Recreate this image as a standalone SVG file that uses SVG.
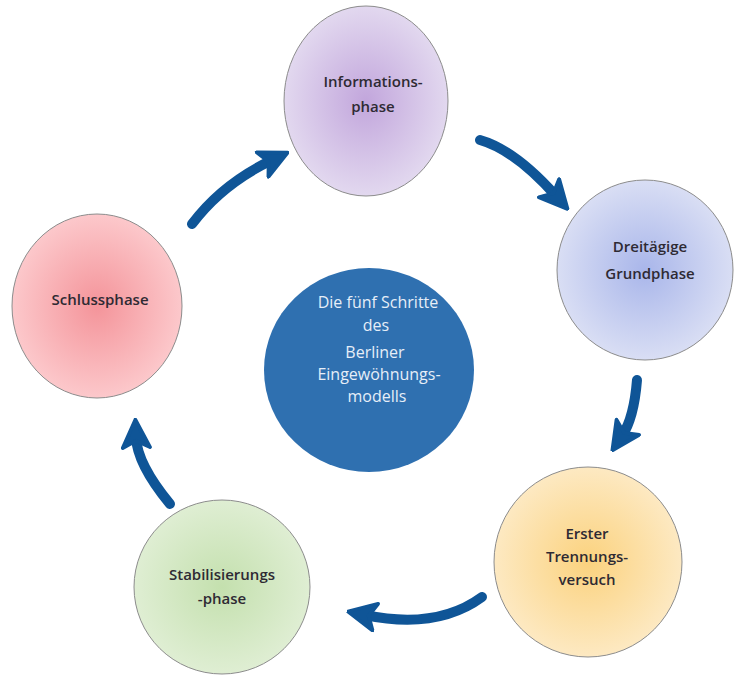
<svg xmlns="http://www.w3.org/2000/svg" width="734" height="682" viewBox="0 0 734 682">
<style>
.node{stroke:#8c8c8c;stroke-width:1}
.lbl{font-family:"Open Sans","Noto Sans",sans-serif;font-size:15px;font-weight:600;fill:#2e2a33;text-anchor:middle}
.clbl{font-family:"Open Sans","Noto Sans",sans-serif;font-size:16px;fill:#e6eef8;text-anchor:middle}
.arrow{fill:none;stroke:#0f5597;stroke-width:10;stroke-linecap:round;marker-end:url(#head)}
</style>
<defs>
<marker id="head" viewBox="0 0 10 10" refX="4" refY="5" markerWidth="3.1" markerHeight="3.1" orient="auto" markerUnits="strokeWidth">
<path d="M0.6,0.6 L9.6,5 L0.6,9.4 L2.8,5 Z" fill="#0f5597" stroke="#0f5597" stroke-width="1.2" stroke-linejoin="round"/>
</marker>
<radialGradient id="gPurple"><stop offset="0" stop-color="#c2a6dc"/><stop offset="1" stop-color="#e2d8ef"/></radialGradient>
<radialGradient id="gBlue"><stop offset="0" stop-color="#a9b6ea"/><stop offset="1" stop-color="#d9def4"/></radialGradient>
<radialGradient id="gYellow"><stop offset="0" stop-color="#fbd27e"/><stop offset="1" stop-color="#fde9c2"/></radialGradient>
<radialGradient id="gGreen"><stop offset="0" stop-color="#c4e0ae"/><stop offset="1" stop-color="#dfeed3"/></radialGradient>
<radialGradient id="gRed"><stop offset="0" stop-color="#f4949a"/><stop offset="1" stop-color="#fcc8cb"/></radialGradient>
</defs>
<rect width="734" height="682" fill="#ffffff"/>
<g id="connectors">
<path class="arrow" d="M192,224 Q222,184 272,160"/>
<path class="arrow" d="M480,140 Q515,150 556,196"/>
<path class="arrow" d="M637,380 Q634,418 622,436"/>
<path class="arrow" d="M482,597 Q437,630 365,615"/>
<path class="arrow" d="M170,504 Q137,464 136,437"/>
</g>
<g id="center">
<ellipse cx="369" cy="370" rx="105" ry="102" fill="#2f70b0"/>
<text class="clbl" x="378" y="308">Die fünf Schritte</text>
<text class="clbl" x="376" y="331">des</text>
<text class="clbl" x="375" y="358">Berliner</text>
<text class="clbl" x="379" y="380">Eingewöhnungs-</text>
<text class="clbl" x="377" y="402">modells</text>
</g>
<g id="informationsphase">
<ellipse class="node" cx="366" cy="101" rx="82" ry="95" fill="url(#gPurple)"/>
<text class="lbl" x="373" y="87">Informations-</text>
<text class="lbl" x="373" y="112">phase</text>
</g>
<g id="grundphase">
<ellipse class="node" cx="645" cy="270" rx="88" ry="90" fill="url(#gBlue)"/>
<text class="lbl" x="650" y="252">Dreitägige</text>
<text class="lbl" x="650" y="279">Grundphase</text>
</g>
<g id="trennungsversuch">
<ellipse class="node" cx="588" cy="562" rx="94" ry="95" fill="url(#gYellow)"/>
<text class="lbl" x="587" y="539">Erster</text>
<text class="lbl" x="587" y="562">Trennungs-</text>
<text class="lbl" x="587" y="585">versuch</text>
</g>
<g id="stabilisierungsphase">
<ellipse class="node" cx="222" cy="587" rx="88" ry="87" fill="url(#gGreen)"/>
<text class="lbl" x="222" y="580">Stabilisierungs</text>
<text class="lbl" x="222" y="604">-phase</text>
</g>
<g id="schlussphase">
<ellipse class="node" cx="97" cy="306" rx="85" ry="92" fill="url(#gRed)"/>
<text class="lbl" x="100" y="305">Schlussphase</text>
</g>
</svg>
